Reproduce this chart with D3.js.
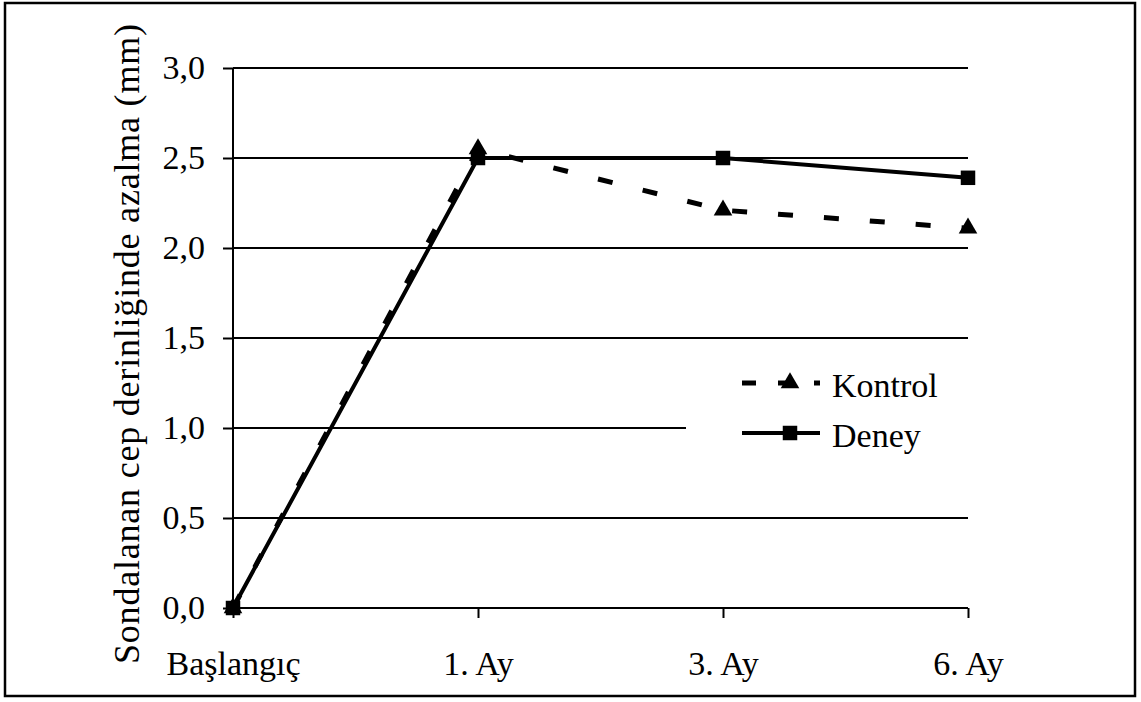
<!DOCTYPE html>
<html>
<head>
<meta charset="utf-8">
<script src="https://cdn.jsdelivr.net/npm/d3@7"></script>
<style>
  body { margin: 0; background: #fff; }
  svg text { font-family: "Liberation Serif", serif; fill: #000; }
</style>
</head>
<body>
<div id="chart"></div>
<script>
// data
var categories = ["Başlangıç", "1. Ay", "3. Ay", "6. Ay"];
var kontrol = [0, 2.55, 2.21, 2.11];
var deney = [0, 2.5, 2.5, 2.39];
var yTicks = [0, 0.5, 1, 1.5, 2, 2.5, 3];
var seriesNames = ["Kontrol", "Deney"];

var svgWidth = 1141;
var svgHeight = 702;
var fontSize = 34;
var serif = "Liberation Serif";

var plot = { left: 233, right: 968, top: 68, bottom: 608 };

var svg = d3.select("#chart")
  .append("svg")
  .attr("width", svgWidth)
  .attr("height", svgHeight)
  .attr("font-family", serif);

// outer frame
svg.append("rect")
  .attr("x", 5).attr("y", 3)
  .attr("width", 1130).attr("height", 693)
  .attr("fill", "white")
  .attr("stroke", "black")
  .attr("stroke-width", 2.5);

var x = d3.scalePoint()
  .domain(categories)
  .range([plot.left, plot.right]);

var y = d3.scaleLinear()
  .domain([0, 3])
  .range([plot.bottom, plot.top]);

// gridlines
svg.append("g")
  .selectAll("line")
  .data(yTicks.filter(d => d > 0))
  .enter()
  .append("line")
  .attr("x1", plot.left)
  .attr("x2", plot.right)
  .attr("y1", d => y(d))
  .attr("y2", d => y(d))
  .attr("stroke", "black")
  .attr("stroke-width", 2);

// axes
var fmt = d => d3.format(".1f")(d).replace(".", ",");

var leftAxis = d3.axisLeft(y)
  .tickValues(yTicks)
  .tickSize(10)
  .tickPadding(18)
  .tickFormat(fmt);

var bottomAxis = d3.axisBottom(x)
  .tickSize(10)
  .tickPadding(33);

var yAxisG = svg.append("g")
  .attr("transform", `translate(${plot.left},0)`)
  .call(leftAxis);

var xAxisG = svg.append("g")
  .attr("transform", `translate(0,${plot.bottom})`)
  .call(bottomAxis);

[yAxisG, xAxisG].forEach(function(g) {
  g.attr("font-family", serif).attr("font-size", fontSize);
  g.select(".domain").attr("stroke", "black").attr("stroke-width", 2);
  g.selectAll(".tick line").attr("stroke", "black").attr("stroke-width", 2);
  g.selectAll("text")
    .attr("fill", "black")
    .attr("font-family", serif)
    .style("font-size", fontSize + "px");
});
xAxisG.select(".domain").attr("d", `M${plot.left},0H${plot.right}`);
yAxisG.select(".domain").attr("d", `M0,${plot.top}V${plot.bottom}`);

// legend background (hides part of gridline)
var legend = svg.append("g");
legend.append("rect")
  .attr("x", 686).attr("y", 352)
  .attr("width", 286).attr("height", 118)
  .attr("fill", "white");

var lineGen = d3.line()
  .x((d, i) => x(categories[i]))
  .y(d => y(d));

var triangle = d3.symbol().type(d3.symbolTriangle).size(150);
var square = d3.symbol().type(d3.symbolSquare).size(210);

// Kontrol (dashed, triangles)
svg.append("path")
  .datum(kontrol)
  .attr("d", lineGen)
  .attr("fill", "none")
  .attr("stroke", "black")
  .attr("stroke-width", 5)
  .attr("stroke-dasharray", "15,31");

svg.append("g")
  .selectAll("path")
  .data(kontrol)
  .enter()
  .append("path")
  .attr("d", triangle)
  .attr("transform", (d, i) => `translate(${x(categories[i])},${y(d)})`)
  .attr("fill", "black");

// Deney (solid, squares)
svg.append("path")
  .datum(deney)
  .attr("d", lineGen)
  .attr("fill", "none")
  .attr("stroke", "black")
  .attr("stroke-width", 4);

svg.append("g")
  .selectAll("path")
  .data(deney)
  .enter()
  .append("path")
  .attr("d", square)
  .attr("transform", (d, i) => `translate(${x(categories[i])},${y(d)})`)
  .attr("fill", "black");

// legend items
var legendRows = [
  { name: seriesNames[0], y: 383, dash: "14,22", marker: triangle, width: 5 },
  { name: seriesNames[1], y: 433, dash: null, marker: square, width: 4 }
];
legendRows.forEach(function(r) {
  legend.append("line")
    .attr("x1", 742).attr("x2", 820)
    .attr("y1", r.y).attr("y2", r.y)
    .attr("stroke", "black")
    .attr("stroke-width", r.width)
    .attr("stroke-dasharray", r.dash);
  legend.append("path")
    .attr("d", r.marker)
    .attr("transform", `translate(790,${r.y})`)
    .attr("fill", "black");
  legend.append("text")
    .attr("x", 832)
    .attr("y", r.y + 14)
    .attr("font-family", serif)
    .style("font-size", fontSize + "px")
    .text(r.name);
});

// y axis title (spread out like the original)
svg.append("text")
  .attr("transform", "rotate(-90)")
  .attr("x", -344)
  .attr("y", 139)
  .attr("text-anchor", "middle")
  .attr("font-family", serif)
  .attr("textLength", 640)
  .attr("lengthAdjust", "spacing")
  .style("font-size", "36px")
  .text("Sondalanan cep derinliğinde azalma (mm)");
</script>
</body>
</html>
